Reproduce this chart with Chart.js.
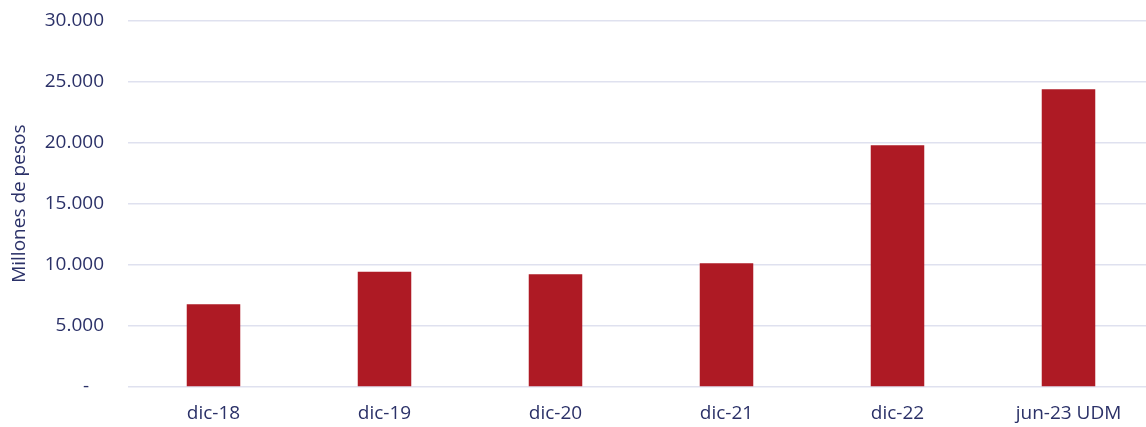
<!DOCTYPE html>
<html>
<head>
<meta charset="utf-8">
<script src="https://cdn.jsdelivr.net/npm/chart.js@4/dist/chart.umd.min.js"></script>
<style>
  html, body { margin: 0; padding: 0; background: #fff; overflow: hidden; }
  #wrap { width: 1154px; height: 442px; position: relative; margin-top: -15px; }
</style>
</head>
<body>
<div id="wrap"><canvas id="chart"></canvas></div>
<script>
// datos
var categorias = ['dic-18', 'dic-19', 'dic-20', 'dic-21', 'dic-22', 'jun-23 UDM'];
var valores = [6770, 9430, 9220, 10120, 19780, 24360];
var ticksY = [0, 5000, 10000, 15000, 20000, 25000, 30000];

var textColor = '#2b3168';
var gridColor = '#dfe1ef';
var barColor = '#ae1a24';

function formatoMiles(v) {
    if (v === 0) return '-   ';
    return v.toString().replace(/\B(?=(\d{3})+(?!\d))/g, '.');
}

var ctx = document.getElementById('chart').getContext('2d');
var chart = new Chart(ctx, {
    type: 'bar',
    data: {
        labels: categorias,
        datasets: [{
            data: valores,
            backgroundColor: barColor,
            borderWidth: 0,
            categoryPercentage: 1,
            barPercentage: 0.313
        }]
    },
    options: {
        responsive: true,
        maintainAspectRatio: false,
        animation: false,
        layout: { padding: 0 },
        plugins: {
            legend: { display: false },
            tooltip: { enabled: false }
        },
        scales: {
            x: {
                grid: { display: false, drawTicks: false },
                border: { display: false },
                ticks: {
                    color: textColor,
                    font: { family: 'Open Sans', size: 19 },
                    padding: 15
                },
                afterFit: function (scale) { scale.height = 40; }
            },
            y: {
                min: 0,
                max: 30000,
                afterBuildTicks: function (scale) {
                    scale.ticks = ticksY.map(function (v) { return { value: v }; });
                },
                grid: { color: gridColor, lineWidth: 1.5, drawTicks: false },
                border: { display: false },
                ticks: {
                    color: textColor,
                    font: { family: 'Open Sans', size: 19 },
                    padding: 24,
                    callback: function (v) { return formatoMiles(v); }
                },
                title: {
                    display: true,
                    text: 'Millones de pesos',
                    color: textColor,
                    font: { family: 'Open Sans', size: 19 },
                    padding: { top: 8, bottom: 0 }
                },
                afterFit: function (scale) { scale.width = 128; }
            }
        }
    }
});
</script>
</body>
</html>
